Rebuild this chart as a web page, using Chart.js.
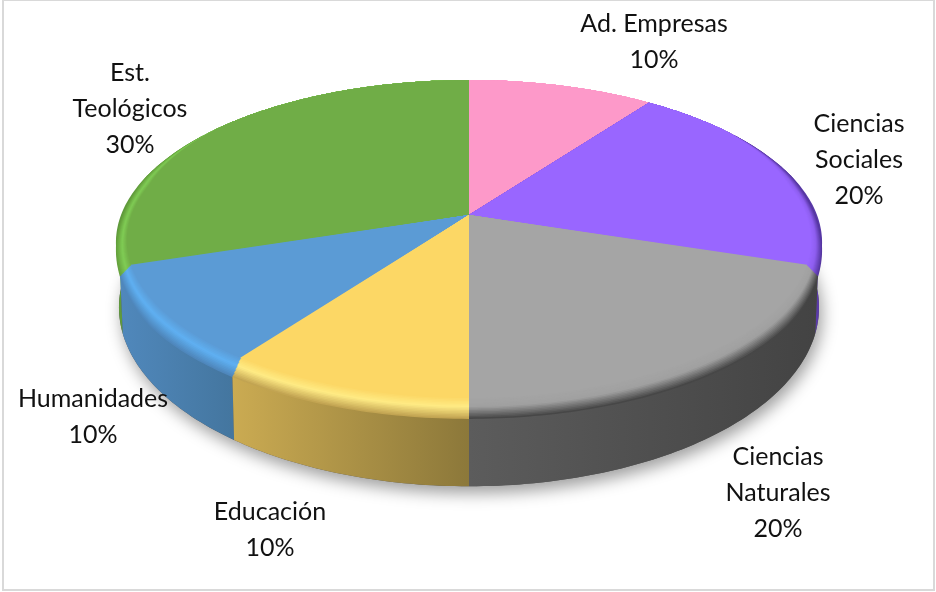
<!DOCTYPE html>
<html>
<head>
<meta charset="utf-8">
<title>Pie</title>
<script src="https://cdn.jsdelivr.net/npm/chart.js@4"></script>
<style>
body { margin: 0; background: #fff; }
</style>
</head>
<body>
<canvas id="chart-1" width="936" height="592"></canvas>
<script>
const categories = ['Ad. Empresas', 'Ciencias Sociales', 'Ciencias Naturales', 'Educación', 'Humanidades', 'Est. Teológicos'];
const shares = [10, 20, 20, 10, 10, 30];

// lines of each label, same order as categories
const labelLines = [['Ad. Empresas'], ['Ciencias', 'Sociales'], ['Ciencias', 'Naturales'], ['Educación'], ['Humanidades'], ['Est.', 'Teológicos']];

const topColors = ['#FD99C9', '#9966FF', '#A5A5A5', '#FCD765', '#5B9BD5', '#70AD47'];
// wall gradient, first colour at the start angle of the slice, second at the end
const wallColors = [['#7a4a62', '#7a4a62'], ['#5a3aa8', '#5a3aa8'], ['#434343', '#5c5c5c'], ['#8c783a', '#cbab52'], ['#44769f', '#5088bc'], ['#5f9a3c', '#5f9a3c']];
// bevel: middle and outer colour
const rimColors = [['#FD99C9', '#FD99C9'], ['#8F5FF0', '#54359F'], ['#A0A0A0', '#474747'], ['#FFEB85', '#C2A452'], ['#5FB0F2', '#4F87BC'], ['#80CC55', '#64A03C']];
// label centre x and first line centre y
const labelSpots = [[654, 24], [859, 124], [778, 457], [270, 512], [93, 399], [130, 73]];

const cx = 469;
const tilt = -0.169;
const step = Math.PI / 180;

function clamp(n) {
    return Math.max(0, Math.min(1, n));
}

// top of the disc, the pie centre is not in the middle of the ellipse because of the perspective
function topPoint(angle, r) {
    const u = Math.cos(angle) * r;
    const v = Math.sin(angle) * r;
    const w = 1 + tilt * v;
    return { x: cx + 348 * u / w, y: 215 + 157.8 * v / w };
}

function basePoint(angle) {
    const u = Math.cos(angle);
    const v = Math.sin(angle);
    const w = 1 + tilt * v;
    return { x: cx + 345 * u / w, y: 277 + 173.9 * v / w };
}

function rimPoint(angle, t) {
    const v = Math.sin(angle);
    const inner = clamp((v + 0.6) / 0.4) * 0.03 * (1 - t);
    const p = topPoint(angle, 1 - inner);
    return { x: p.x, y: p.y + t * 14 * clamp((v + 0.25) / 0.8) };
}

function hexToRgb(hex) {
    return [1, 3, 5].map(i => parseInt(hex.substr(i, 2), 16));
}

function mix(a, b, t) {
    const c1 = hexToRgb(a);
    const c2 = hexToRgb(b);
    return `rgb(${c1.map((c, i) => Math.round(c + (c2[i] - c) * t)).join(',')})`;
}

function rimColor(i, t) {
    const base = topColors[i];
    const mid = rimColors[i][0];
    const edge = rimColors[i][1];
    return t < 0.45 ? mix(base, mid, t / 0.45) : mix(mid, edge, (t - 0.45) / 0.55);
}

function anglesOf(arc) {
    const list = [];
    for (let a = arc.startAngle; a < arc.endAngle; a += step) {
        list.push(a);
    }
    list.push(arc.endAngle);
    return list;
}

function drawShadow(ctx) {
    ctx.save();
    ctx.shadowColor = 'rgba(0,0,0,0.38)';
    ctx.shadowBlur = 16;
    ctx.shadowOffsetX = 3;
    ctx.shadowOffsetY = 7;
    ctx.fillStyle = '#555';
    ctx.beginPath();
    for (let a = 0; a < Math.PI * 2; a += step) {
        const p = basePoint(a);
        ctx.lineTo(p.x, p.y);
    }
    ctx.closePath();
    ctx.fill();
    ctx.restore();
}

function drawWall(ctx, arc, i) {
    const angles = anglesOf(arc);
    const first = topPoint(arc.startAngle, 1);
    const last = topPoint(arc.endAngle, 1);
    const gradient = ctx.createLinearGradient(first.x, 0, last.x === first.x ? first.x + 1 : last.x, 0);
    gradient.addColorStop(0, wallColors[i][0]);
    gradient.addColorStop(1, wallColors[i][1]);
    ctx.fillStyle = gradient;
    ctx.beginPath();
    angles.forEach(a => {
        const p = topPoint(a, 1);
        ctx.lineTo(p.x, p.y);
    });
    angles.slice().reverse().forEach(a => {
        const p = basePoint(a);
        ctx.lineTo(p.x, p.y);
    });
    ctx.closePath();
    ctx.fill();
}

function drawTop(ctx, arc, i) {
    const angles = anglesOf(arc);
    const centre = topPoint(0, 0);
    const rings = 14;
    for (let k = rings; k >= 0; k--) {
        const t = k / rings;
        ctx.fillStyle = rimColor(i, t);
        ctx.beginPath();
        ctx.moveTo(centre.x, centre.y);
        angles.forEach(a => {
            const p = rimPoint(a, t);
            ctx.lineTo(p.x, p.y);
        });
        ctx.closePath();
        ctx.fill();
    }
}

// Chart.js works out the slice angles, this draws them as a tilted disc
const discPlugin = {
    id: 'disc',
    beforeDraw(chart) {
        const ctx = chart.ctx;
        ctx.save();
        ctx.strokeStyle = '#D9D9D9';
        ctx.lineWidth = 2;
        ctx.strokeRect(3, 0, 931, 590);
        ctx.restore();
    },
    beforeDatasetDraw(chart) {
        const ctx = chart.ctx;
        const arcs = chart.getDatasetMeta(0).data;
        // back to front so the nearest wall ends up on top
        const order = arcs.map((arc, i) => i).sort((a, b) => {
            return Math.sin((arcs[a].startAngle + arcs[a].endAngle) / 2) - Math.sin((arcs[b].startAngle + arcs[b].endAngle) / 2);
        });
        drawShadow(ctx);
        order.forEach(i => drawWall(ctx, arcs[i], i));
        order.forEach(i => drawTop(ctx, arcs[i], i));
        return false;
    },
    afterDraw(chart) {
        const ctx = chart.ctx;
        const total = shares.reduce((sum, n) => sum + n, 0);
        ctx.save();
        ctx.font = '25px Lato';
        ctx.fillStyle = '#111';
        ctx.textAlign = 'center';
        ctx.textBaseline = 'middle';
        labelLines.forEach((lines, i) => {
            const text = lines.concat(`${Math.round(shares[i] / total * 100)}%`);
            text.forEach((line, n) => {
                ctx.fillText(line, labelSpots[i][0], labelSpots[i][1] + n * 36);
            });
        });
        ctx.restore();
    }
};

new Chart(document.getElementById('chart-1'), {
    type: 'pie',
    data: {
        labels: categories,
        datasets: [{
            data: shares,
            backgroundColor: topColors,
            borderWidth: 0
        }]
    },
    options: {
        responsive: false,
        animation: false,
        plugins: {
            legend: { display: false },
            tooltip: { enabled: false }
        }
    },
    plugins: [discPlugin]
});
</script>
</body>
</html>
